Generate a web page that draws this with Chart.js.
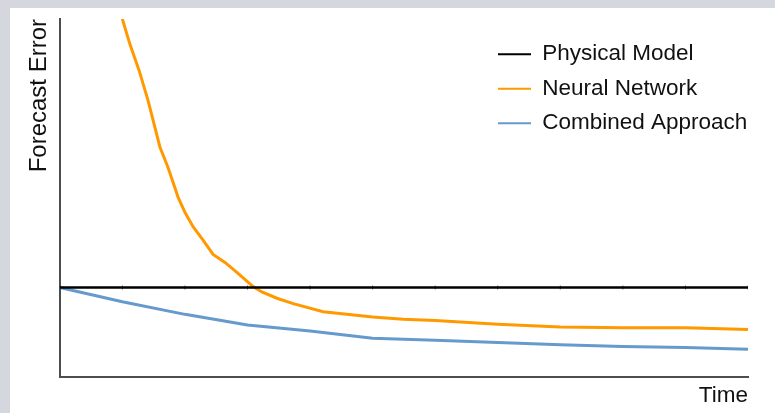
<!DOCTYPE html>
<html>
<head>
<meta charset="utf-8">
<script src="https://cdn.jsdelivr.net/npm/chart.js@4/dist/chart.umd.min.js"></script>
<style>
  html, body { margin: 0; padding: 0; background: #d4d7de; }
  #wrap { position: absolute; left: 10px; top: 8px; width: 765px; height: 405px; background: #fff; }
</style>
</head>
<body>
<div id="wrap"><canvas id="chart" width="765" height="405"></canvas></div>
<script>
/* -------------------- data -------------------- */
const timeSteps      = [0, 1, 2, 3, 4, 5, 6, 7, 8, 9, 10, 11];
const physicalValues = [1, 1, 1, 1, 1, 1, 1, 1, 1, 1, 1, 1];
const combinedValues = [1.0, 0.84, 0.70, 0.58, 0.515, 0.433, 0.41, 0.386, 0.36, 0.341, 0.33, 0.31];

// neural network curve is sampled finer than the time steps
const neuralTimes  = [1.0, 1.12, 1.27, 1.41, 1.6, 1.73, 1.89, 2.0, 2.13, 2.29, 2.45, 2.64, 2.83,
                      3.09, 3.23, 3.47, 3.73, 4.21, 5.0, 5.49, 6.0, 7.0, 8.0, 9.0, 10.0, 11.0];
const neuralValues = [4.0, 3.72, 3.42, 3.09, 2.57, 2.34, 2.01, 1.84, 1.68, 1.53, 1.37, 1.28, 1.17,
                      1.01, 0.95, 0.88, 0.82, 0.73, 0.67, 0.645, 0.63, 0.59, 0.56, 0.55, 0.55, 0.53];

const seriesNames = ['Physical Model', 'Neural Network', 'Combined Approach'];

/* -------------------- styles -------------------- */
const COLORS = {
  physical: '#000000',
  neural:   '#ff9900',
  combined: '#6699cc',
  axis:     '#4d4d4d',
  text:     '#111111'
};
const FONT = '"Liberation Sans", Arial, Helvetica, sans-serif';

const toPoints = (xs, ys) => xs.map((x, i) => ({ x, y: ys[i] }));

// park the chartArea legend in the upper right corner of the plot
const legendSpot = {
  id: 'legendSpot',
  afterLayout(chart) {
    const lg = chart.legend;
    if (!lg) return;
    lg.left = chart.chartArea.right - 262;
    lg.top = chart.chartArea.top + 12;
    lg.right = chart.width;
    lg.bottom = chart.height;
  }
};

new Chart(document.getElementById('chart').getContext('2d'), {
  type: 'line',
  data: {
    datasets: [
      {
        label: seriesNames[0],
        data: toPoints(timeSteps, physicalValues),
        borderColor: COLORS.physical,
        backgroundColor: COLORS.physical,
        borderWidth: 2.5,
        pointStyle: 'line',
        rotation: 90,
        pointRadius: 2,
        pointBorderWidth: 1,
        pointBorderColor: 'rgba(0,0,0,0.6)',
        tension: 0
      },
      {
        label: seriesNames[1],
        data: toPoints(neuralTimes, neuralValues),
        borderColor: COLORS.neural,
        backgroundColor: COLORS.neural,
        borderWidth: 3,
        pointRadius: 0,
        tension: 0
      },
      {
        label: seriesNames[2],
        data: toPoints(timeSteps, combinedValues),
        borderColor: COLORS.combined,
        backgroundColor: COLORS.combined,
        borderWidth: 3,
        pointRadius: 0,
        tension: 0
      }
    ]
  },
  options: {
    responsive: false,
    animation: false,
    events: [],
    layout: { padding: { left: 10, right: 27, top: 11, bottom: 0 } },
    plugins: {
      tooltip: { enabled: false },
      legend: {
        position: 'chartArea',
        align: 'start',
        labels: {
          color: COLORS.text,
          font: { family: FONT, size: 22.5 },
          boxWidth: 33,
          boxHeight: 0,
          padding: 12,
          generateLabels(chart) {
            const items = Chart.defaults.plugins.legend.labels.generateLabels(chart);
            items.forEach((it) => { it.lineWidth = 2; it.fillStyle = 'rgba(0,0,0,0)'; });
            return items;
          }
        }
      }
    },
    scales: {
      x: {
        type: 'linear',
        min: 0,
        max: 11,
        ticks: { display: false },
        grid: { display: false, drawTicks: false },
        border: { display: true, color: COLORS.axis, width: 2 },
        title: {
          display: true,
          text: 'Time',
          align: 'end',
          color: COLORS.text,
          font: { family: FONT, size: 22.5 },
          padding: { top: 5, bottom: 4 }
        }
      },
      y: {
        min: 0,
        max: 4,
        ticks: { display: false },
        grid: { display: false, drawTicks: false },
        border: { display: true, color: COLORS.axis, width: 2 },
        title: {
          display: true,
          text: 'Forecast Error',
          align: 'end',
          color: COLORS.text,
          font: { family: FONT, size: 24 },
          padding: { top: 5, bottom: 6 }
        }
      }
    }
  },
  plugins: [legendSpot]
});
</script>
</body>
</html>
